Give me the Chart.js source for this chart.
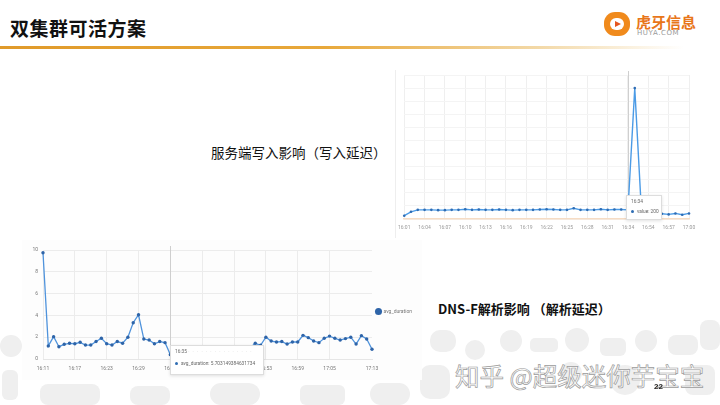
<!DOCTYPE html>
<html>
<head>
<meta charset="utf-8">
<script src="https://cdn.jsdelivr.net/npm/chart.js@4.4.0/dist/chart.umd.min.js"></script>
<style>
html, body { margin: 0; padding: 0; background: #fff; }
body { width: 720px; height: 405px; position: relative; overflow: hidden;
       font-family: "Noto Sans CJK SC", "Noto Sans", sans-serif; }
.abs { position: absolute; }
#title { left: 10px; top: 14px; font-size: 19px; font-weight: bold; color: #111; letter-spacing: 0.5px; }
#rule { left: 0; top: 46px; width: 720px; height: 3px;
        background: linear-gradient(to right, #e09a2a 0%, #e8a83a 45%, #f3d9a8 75%, rgba(255,255,255,0) 95%); }
#logoIcon { left: 604px; top: 12px; width: 26px; height: 24px; border-radius: 11px;
            background: #f08a1c; }
#logoIcon .in { position: absolute; left: 6px; top: 6px; width: 14px; height: 12px; border-radius: 6px; background: #fff; }
#logoIcon .tri { position: absolute; left: 11px; top: 9px; width: 0; height: 0;
                 border-left: 6px solid #e5561f; border-top: 3px solid transparent; border-bottom: 3px solid transparent; }
#logoText { left: 636px; top: 11px; font-size: 15px; font-weight: bold; color: #e8761a; }
#logoSub { left: 637px; top: 29px; font-size: 7px; color: #999; font-family: "DejaVu Sans", sans-serif; letter-spacing: 0.6px; }
#cap1 { left: 211px; top: 142px; font-size: 13.5px; color: #111; }
#cap2 { left: 438px; top: 299px; font-size: 13px; font-weight: bold; color: #111; }
#page { left: 654px; top: 382px; font-size: 8px; font-weight: bold; color: #222; font-family: "Liberation Sans", sans-serif; }
#mark { left: 455px; top: 361px; font-size: 24.5px; line-height: 30px; color: #fff; -webkit-text-stroke: 0.7px #9a9a9a; white-space: nowrap; }
.deco { position: absolute; background: #efefef; }
#panelTop { left: 395px; top: 70px; width: 309px; height: 168px; border-left: 1px solid #eee; background: #fff; }
#panelBot { left: 22px; top: 240px; width: 400px; height: 140px; background: #fdfdfd; }
#c1wrap { left: 392px; top: 66px; width: 312px; height: 172px; }
#c2wrap { left: 22px; top: 242px; width: 400px; height: 138px; }
.tip { position: absolute; background: #fff; border: 1px solid #ddd; box-shadow: 0 1px 3px rgba(0,0,0,0.12);
       font-family: "Roboto", sans-serif; color: #666; font-size: 4.8px; }
.tip .t { position: absolute; left: 4px; top: 3px; }
.tip .b { position: absolute; left: 4px; }
.tip .dot { display: inline-block; width: 3px; height: 3px; border-radius: 2px; background: #2f6db3; margin-right: 3px; vertical-align: middle; }
</style>
</head>
<body>
<!-- background pattern at the bottom of the slide -->
<div class="deco" style="left:0;top:335px;width:22px;height:22px;border-radius:11px;"></div>
<div class="deco" style="left:2px;top:370px;width:16px;height:30px;border-radius:6px;"></div>
<div class="deco" style="left:430px;top:330px;width:26px;height:22px;border-radius:10px;"></div>
<div class="deco" style="left:465px;top:340px;width:20px;height:20px;border-radius:10px;"></div>
<div class="deco" style="left:500px;top:330px;width:22px;height:22px;border-radius:11px;"></div>
<div class="deco" style="left:530px;top:338px;width:28px;height:14px;border-radius:5px;"></div>
<div class="deco" style="left:565px;top:328px;width:24px;height:24px;border-radius:12px;"></div>
<div class="deco" style="left:600px;top:338px;width:26px;height:18px;border-radius:6px;"></div>
<div class="deco" style="left:635px;top:330px;width:22px;height:22px;border-radius:11px;"></div>
<div class="deco" style="left:668px;top:335px;width:30px;height:20px;border-radius:8px;"></div>
<div class="deco" style="left:700px;top:320px;width:20px;height:30px;border-radius:8px;"></div>
<div class="deco" style="left:420px;top:365px;width:30px;height:34px;border-radius:10px;"></div>
<div class="deco" style="left:560px;top:362px;width:22px;height:22px;border-radius:11px;"></div>
<div class="deco" style="left:610px;top:365px;width:30px;height:30px;border-radius:15px;"></div>
<div class="deco" style="left:685px;top:365px;width:30px;height:30px;border-radius:8px;"></div>
<div class="deco" style="left:40px;top:384px;width:60px;height:21px;border-radius:8px;"></div>
<div class="deco" style="left:130px;top:386px;width:40px;height:19px;border-radius:8px;"></div>
<div class="deco" style="left:210px;top:383px;width:50px;height:22px;border-radius:11px;"></div>
<div class="deco" style="left:300px;top:385px;width:45px;height:20px;border-radius:6px;"></div>
<div class="deco" style="left:370px;top:383px;width:40px;height:22px;border-radius:11px;"></div>

<div id="title" class="abs">双集群可活方案</div>
<div id="rule" class="abs"></div>
<div id="logoIcon" class="abs"><div class="in"></div><div class="tri"></div></div>
<div id="logoText" class="abs">虎牙信息</div>
<div id="logoSub" class="abs">HUYA.COM</div>

<div id="cap1" class="abs">服务端写入影响（写入延迟）</div>
<div id="cap2" class="abs">DNS-F解析影响 （解析延迟）</div>

<div id="panelTop" class="abs"></div>
<div id="panelBot" class="abs"></div>
<div id="c1wrap" class="abs"><canvas id="writeChart"></canvas></div>
<div id="c2wrap" class="abs"><canvas id="dnsChart"></canvas></div>

<div class="tip" style="left:626px;top:195px;width:34px;height:23px;">
  <div class="t">16:34</div>
  <div class="b" style="top:13px;"><span class="dot"></span>value: 200</div>
</div>
<div class="tip" style="left:170px;top:345px;width:92px;height:28px;">
  <div class="t">16:35 <span style="color:#ccc;letter-spacing:1px;">· · · · · · · · · · · · · · ·</span></div>
  <div class="b" style="top:15px;"><span class="dot"></span>avg_duration: 5.703149384631734</div>
</div>

<div id="mark" class="abs">知乎 @超级迷你芋宝宝</div>
<div id="page" class="abs">22</div>

<script>
// 写入延迟 (top chart)
const writeLabels = ['16:01','16:02','16:03','16:04','16:05','16:06','16:07','16:08','16:09','16:10',
                     '16:11','16:12','16:13','16:14','16:15','16:16','16:17','16:18','16:19','16:20',
                     '16:21','16:22','16:23','16:24','16:25','16:26','16:27','16:28','16:29','16:30',
                     '16:31','16:32','16:33','16:34','16:35','16:53','16:54','16:55','16:56','16:57',
                     '16:58','16:59','17:00'];
const writeValues = [5, 11, 14, 14, 14, 13.5, 13.5, 14, 14, 15,
                     14, 14.5, 14, 14, 14.5, 14, 13.5, 14, 14, 14,
                     14.5, 15, 14.5, 14, 14, 16.5, 14, 14, 14, 15,
                     14, 14.5, 14.5, 14, 200, 9, 9, 8, 8, 7,
                     8.5, 6.5, 8.5];
const writeHoverIndex = 33;

// 解析延迟 (bottom chart)
const dnsLabels = ['16:11','16:12','16:13','16:14','16:15','16:16','16:17','16:18','16:19','16:20',
                   '16:21','16:22','16:23','16:24','16:25','16:26','16:27','16:28','16:29','16:30',
                   '16:31','16:32','16:33','16:34','16:35','16:36','16:37','16:38','16:39','16:40',
                   '16:41','16:42','16:43','16:44','16:45','16:46','16:47','16:48','16:49','16:50',
                   '16:51','16:52','16:53','16:54','16:55','16:56','16:57','16:58','16:59','17:00',
                   '17:01','17:02','17:03','17:04','17:05','17:06','17:07','17:08','17:09','17:10',
                   '17:11','17:12','17:13'];
const dnsDuration = [9.75, 1.2, 2.05, 1.13, 1.35, 1.44, 1.4, 1.53, 1.28, 1.28,
                     1.6, 1.9, 1.4, 1.28, 1.6, 1.45, 2.0, 3.33, 4.06, 1.83,
                     1.74, 1.4, 1.6, 1.5, 0.4, 0.9, 1.0, 0.95, 1.0, 1.05,
                     0.9, 1.0, 0.95, 1.0, 1.0, 0.9, 1.05, 1.0, 0.95, 1.0,
                     1.44, 1.26, 2.0, 1.65, 1.56, 1.6, 1.37, 1.56, 1.56, 2.17,
                     1.96, 1.65, 1.5, 1.9, 2.1, 1.9, 1.74, 1.87, 2.0, 1.37,
                     2.14, 1.83, 0.9];
const dnsHoverIndex = 24;

const smallFont = { family: 'Roboto', size: 5 };

// hover crosshair drawn at a data index
const crosshair = {
    id: 'crosshair',
    beforeDatasetsDraw(chart, args, opts) {
        const x = chart.scales.x.getPixelForValue(opts.index);
        const ctx = chart.ctx;
        ctx.save();
        ctx.strokeStyle = '#cfcfcf';
        ctx.lineWidth = 1;
        ctx.beginPath();
        ctx.moveTo(Math.round(x) + 0.5, chart.chartArea.top - 4);
        ctx.lineTo(Math.round(x) + 0.5, chart.chartArea.bottom);
        ctx.stroke();
        ctx.restore();
    }
};

new Chart(document.getElementById('writeChart'), {
    type: 'line',
    data: {
        labels: writeLabels,
        datasets: [{
            label: 'value',
            data: writeValues,
            borderColor: '#4b9be6',
            borderWidth: 1.4,
            pointRadius: 1.3,
            pointBackgroundColor: '#2e6cb4',
            pointBorderWidth: 0,
            tension: 0
        }]
    },
    options: {
        responsive: true,
        maintainAspectRatio: false,
        animation: false,
        events: [],
        layout: { padding: { left: 8, right: 15, top: 9, bottom: 5 } },
        scales: {
            x: {
                grid: {
                    color: (c) => (c.index % 3 === 0 ? '#efefef' : 'rgba(0,0,0,0)'),
                    drawTicks: false
                },
                border: { color: '#f6dcc4', width: 1.5 },
                ticks: {
                    autoSkip: false, maxRotation: 0, padding: 6,
                    font: smallFont, color: '#999',
                    callback: function (v, i) { return i % 3 === 0 ? this.getLabelForValue(v) : ''; }
                },
                afterFit: (axis) => { axis.height = 14; }
            },
            y: {
                min: 0, max: 220,
                ticks: { display: false, stepSize: 20 },
                grid: { color: '#f4f4f4', drawTicks: false },
                border: { display: false },
                afterFit: (axis) => { axis.width = 0; }
            }
        },
        plugins: {
            legend: { display: false },
            tooltip: { enabled: false },
            crosshair: { index: writeHoverIndex }
        }
    },
    plugins: [crosshair]
});

new Chart(document.getElementById('dnsChart'), {
    type: 'line',
    data: {
        labels: dnsLabels,
        datasets: [{
            label: 'avg_duration',
            data: dnsDuration,
            borderColor: '#4f93dc',
            backgroundColor: '#2e6cb4',
            borderWidth: 1.3,
            pointRadius: 1.7,
            pointBackgroundColor: '#2e64a8',
            pointBorderWidth: 0,
            tension: 0
        }]
    },
    options: {
        responsive: true,
        maintainAspectRatio: false,
        animation: false,
        events: [],
        layout: { padding: { left: 0, right: 0, top: 8, bottom: 7 } },
        scales: {
            x: {
                grid: {
                    color: (c) => (c.index % 6 === 0 && c.index <= 54 ? '#ececec' : 'rgba(0,0,0,0)'),
                    drawTicks: false
                },
                border: { color: '#e6e6e6' },
                ticks: {
                    autoSkip: false, maxRotation: 0, padding: 7,
                    font: smallFont, color: '#777',
                    callback: function (v, i) {
                        return (i % 6 === 0 && i <= 54) || i === dnsLabels.length - 1 ? this.getLabelForValue(v) : '';
                    }
                },
                afterFit: (axis) => { axis.height = 14; }
            },
            y: {
                min: 0, max: 10,
                ticks: { stepSize: 2, font: smallFont, color: '#777', padding: 5 },
                grid: { color: '#ececec', drawTicks: false },
                border: { display: false },
                afterFit: (axis) => { axis.width = 21; }
            }
        },
        plugins: {
            legend: {
                position: 'right',
                labels: {
                    usePointStyle: true, pointStyle: 'circle',
                    boxWidth: 5, boxHeight: 5, padding: 4,
                    font: smallFont, color: '#777'
                }
            },
            tooltip: { enabled: false },
            crosshair: { index: dnsHoverIndex }
        }
    },
    plugins: [crosshair]
});
</script>
</body>
</html>
